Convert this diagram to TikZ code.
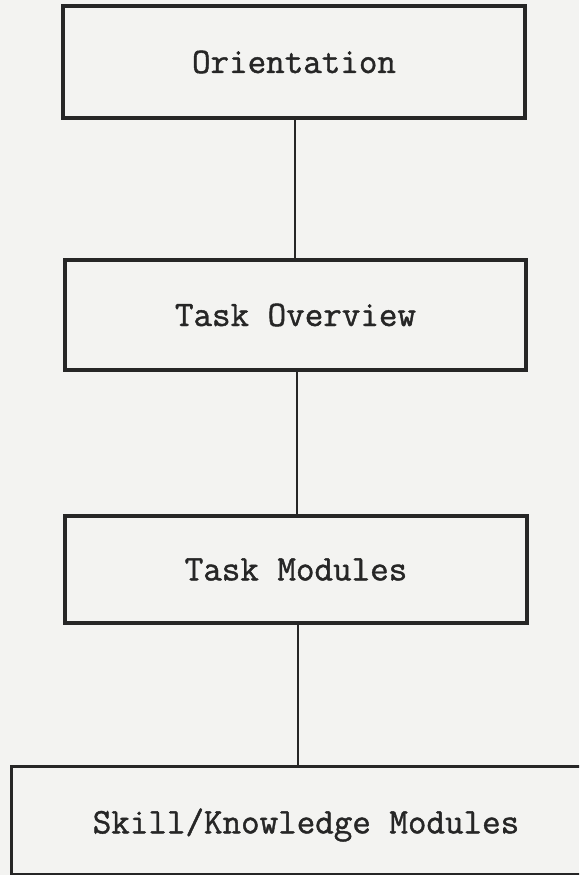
\documentclass[tikz,border=0pt]{standalone}
\usepackage{fontspec}
\setmonofont[FakeBold=1.2]{Latin Modern Mono}
\definecolor{paper}{HTML}{F3F3F1}
\definecolor{ink}{HTML}{262626}
\tikzset{
  labelfont/.style={font=\ttfamily\fontsize{36}{40}\selectfont, text=ink},
  stage/.style={draw=ink, line width=3.2pt, rectangle, inner sep=0pt, labelfont},
  link/.style={draw=ink, line width=2.8pt}
}
\begin{document}
\begin{tikzpicture}[x=1pt, y=-1pt]
  \clip (0,0) rectangle (579,875);
  \fill[paper] (0,0) rectangle (579,875);
  \useasboundingbox (0,0) rectangle (579,875);

  % stages of the course structure
  \node[stage, minimum width=462pt, minimum height=112pt] (orient) at (294,62) {Orientation};
  \node[stage, minimum width=461pt, minimum height=110pt] (overview) at (295.5,315) {Task Overview};
  \node[stage, minimum width=462pt, minimum height=107pt] (modules) at (296,569.5) {Task Modules};
  \node[stage, minimum width=590pt, minimum height=108pt, anchor=north west] (skills) at (10,765) {};
  \node[labelfont] (skilltext) at (306,825) {Skill/Knowledge Modules};

  % connectors between stages
  \draw[link] (orient.south -| 295,0) -- (overview.north -| 295,0);
  \draw[link] (overview.south -| 297,0) -- (modules.north -| 297,0);
  \draw[link] (modules.south -| 298,0) -- (skills.north -| 298,0);
\end{tikzpicture}
\end{document}
